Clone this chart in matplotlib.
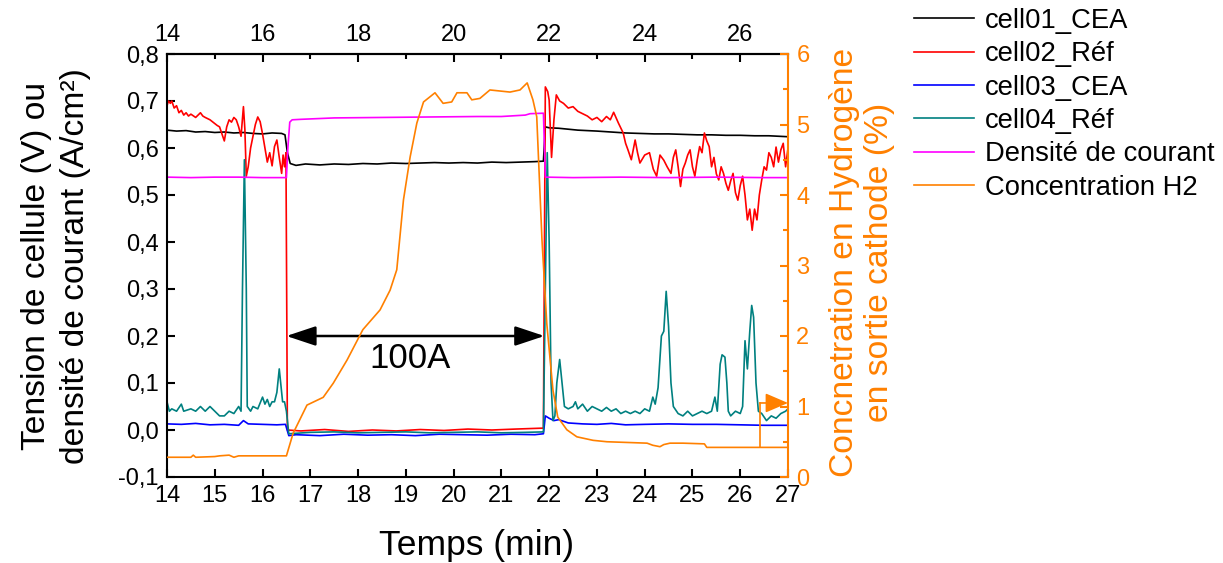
import matplotlib
matplotlib.use('Agg')
import matplotlib.pyplot as plt
from matplotlib.ticker import MultipleLocator, FuncFormatter

plt.rcParams['font.family'] = ['Liberation Sans', 'DejaVu Sans']

# ---------------- data ----------------
t_cell01 = [14.0, 14.2, 14.4, 14.6, 14.8, 15.0, 15.2, 15.4, 15.6, 15.8, 16.0, 16.2, 16.4, 16.47,
            16.52, 16.58, 16.7, 16.9, 17.2, 17.5, 17.8, 18.1, 18.4, 18.7, 19.0, 19.3, 19.6, 19.9,
            20.2, 20.5, 20.8, 21.1, 21.4, 21.7, 21.88, 21.92, 22.0, 22.2, 22.4, 22.6, 22.8, 23.0,
            23.3, 23.6, 23.9, 24.2, 24.5, 24.8, 25.1, 25.4, 25.7, 26.0, 26.3, 26.6, 27.0]
v_cell01 = [0.638, 0.636, 0.637, 0.634, 0.635, 0.633, 0.634, 0.632, 0.633, 0.631, 0.630, 0.632, 0.631, 0.628,
            0.590, 0.567, 0.563, 0.566, 0.564, 0.566, 0.565, 0.567, 0.566, 0.568, 0.567, 0.568, 0.569, 0.568,
            0.569, 0.568, 0.570, 0.569, 0.570, 0.571, 0.572, 0.645, 0.643, 0.642, 0.640, 0.638, 0.637, 0.636,
            0.634, 0.632, 0.631, 0.630, 0.630, 0.629, 0.628, 0.628, 0.627, 0.627, 0.626, 0.626, 0.624]

t_cell02 = [14.0, 14.03, 14.07, 14.1, 14.15, 14.2, 14.25, 14.3, 14.35, 14.4, 14.45, 14.5, 14.6, 14.7,
            14.75, 14.8, 14.9, 15.0, 15.05, 15.1, 15.15, 15.2, 15.25, 15.3, 15.35, 15.4, 15.45, 15.5,
            15.55, 15.6, 15.63, 15.66, 15.7, 15.75, 15.8, 15.85, 15.9, 15.95, 16.0, 16.05, 16.1, 16.15,
            16.2, 16.25, 16.3, 16.35, 16.4, 16.43, 16.46, 16.49, 16.52,
            16.8, 17.3, 17.8, 18.3, 18.8, 19.3, 19.8, 20.3, 20.8, 21.3, 21.88,
            21.92, 21.97, 22.0, 22.05, 22.1, 22.15, 22.22, 22.3, 22.4, 22.5, 22.6, 22.7, 22.8, 22.9,
            23.0, 23.1, 23.2, 23.28, 23.35, 23.45, 23.55, 23.6, 23.65, 23.72, 23.8, 23.85, 23.9, 24.0,
            24.1, 24.18, 24.25, 24.32, 24.4, 24.47, 24.55, 24.6, 24.65, 24.7, 24.75, 24.8, 24.85, 24.9,
            24.95, 25.0, 25.05, 25.1, 25.15, 25.2, 25.25, 25.3, 25.35, 25.4, 25.45, 25.5, 25.55, 25.6,
            25.65, 25.7, 25.75, 25.8, 25.85, 25.9, 25.95, 26.0, 26.05, 26.1, 26.15, 26.2, 26.25, 26.3,
            26.35, 26.4, 26.45, 26.5, 26.55, 26.6, 26.65, 26.7, 26.75, 26.8, 26.85, 26.9, 26.95, 27.0]
v_cell02 = [0.690, 0.700, 0.695, 0.700, 0.685, 0.690, 0.675, 0.680, 0.670, 0.675, 0.668, 0.672, 0.665, 0.675,
            0.668, 0.665, 0.660, 0.652, 0.648, 0.645, 0.630, 0.615, 0.645, 0.660, 0.655, 0.665, 0.660, 0.645,
            0.625, 0.688, 0.640, 0.540, 0.560, 0.600, 0.625, 0.650, 0.666, 0.656, 0.630, 0.600, 0.570, 0.590,
            0.562, 0.603, 0.617, 0.580, 0.546, 0.585, 0.560, 0.590, 0.000,
            -0.002, 0.001, -0.003, 0.000, -0.002, 0.001, -0.001, 0.002, 0.000, 0.002, 0.004,
            0.730, 0.720, 0.702, 0.580, 0.660, 0.713, 0.700, 0.695, 0.685, 0.688, 0.678, 0.673, 0.668, 0.660,
            0.665, 0.656, 0.667, 0.660, 0.676, 0.653, 0.632, 0.610, 0.596, 0.575, 0.617, 0.590, 0.568, 0.585,
            0.590, 0.555, 0.540, 0.585, 0.574, 0.560, 0.546, 0.580, 0.596, 0.560, 0.518, 0.555, 0.568, 0.585,
            0.596, 0.560, 0.540, 0.575, 0.603, 0.590, 0.632, 0.615, 0.603, 0.560, 0.580, 0.545, 0.532, 0.560,
            0.546, 0.525, 0.510, 0.530, 0.546, 0.505, 0.489, 0.520, 0.540, 0.500, 0.447, 0.470, 0.425, 0.470,
            0.447, 0.500, 0.532, 0.560, 0.553, 0.590, 0.580, 0.560, 0.602, 0.570, 0.596, 0.610, 0.560, 0.600]

t_cell03 = [14.0, 14.3, 14.6, 14.9, 15.2, 15.5, 15.6, 15.7, 16.0, 16.3, 16.48, 16.55, 16.7, 17.2, 17.7,
            18.2, 18.7, 19.2, 19.7, 20.2, 20.7, 21.2, 21.7, 21.88, 21.92, 22.0, 22.1, 22.2, 22.4, 22.7,
            23.0, 23.3, 23.6, 24.0, 24.5, 25.0, 25.5, 26.0, 26.5, 27.0]
v_cell03 = [0.013, 0.012, 0.014, 0.011, 0.012, 0.010, 0.020, 0.013, 0.012, 0.011, 0.012, -0.012, -0.010, -0.012, -0.009,
            -0.011, -0.010, -0.012, -0.009, -0.010, -0.011, -0.009, -0.010, -0.008, 0.030, 0.025, 0.020, 0.022, 0.015, 0.013,
            0.012, 0.014, 0.011, 0.012, 0.013, 0.012, 0.012, 0.011, 0.010, 0.010]

t_cell04 = [14.0, 14.05, 14.1, 14.2, 14.3, 14.35, 14.5, 14.6, 14.7, 14.8, 14.9, 15.0, 15.1, 15.2, 15.3,
            15.4, 15.5, 15.55, 15.58, 15.62, 15.66, 15.68, 15.75, 15.8, 15.9, 16.0, 16.05, 16.1, 16.15,
            16.2, 16.25, 16.3, 16.35, 16.38, 16.42, 16.46, 16.5, 16.55,
            17.0, 17.5, 18.0, 18.5, 19.0, 19.5, 20.0, 20.5, 21.0, 21.5, 21.88,
            21.92, 21.96, 22.0, 22.04, 22.08, 22.12, 22.16, 22.22, 22.27, 22.32, 22.4, 22.5, 22.55, 22.6,
            22.7, 22.8, 22.9, 23.0, 23.1, 23.2, 23.3, 23.4, 23.5, 23.6, 23.7, 23.8, 23.9, 24.0, 24.1,
            24.17, 24.22, 24.28, 24.35, 24.4, 24.45, 24.5, 24.55, 24.6, 24.7, 24.8, 24.9, 25.0, 25.1,
            25.2, 25.3, 25.4, 25.47, 25.52, 25.58, 25.62, 25.68, 25.72, 25.75, 25.8, 25.9, 26.0, 26.05,
            26.1, 26.15, 26.2, 26.24, 26.28, 26.33, 26.38, 26.45, 26.55, 26.65, 26.75, 26.85, 26.95, 27.0]
v_cell04 = [0.060, 0.040, 0.045, 0.040, 0.055, 0.040, 0.045, 0.040, 0.050, 0.040, 0.050, 0.040, 0.030, 0.030, 0.040,
            0.035, 0.050, 0.040, 0.300, 0.575, 0.300, 0.050, 0.040, 0.050, 0.045, 0.070, 0.055, 0.065, 0.050,
            0.060, 0.060, 0.080, 0.130, 0.100, 0.060, 0.060, 0.040, -0.008,
            -0.005, -0.004, -0.006, -0.005, -0.004, -0.006, -0.005, -0.004, -0.006, -0.005, -0.004,
            0.300, 0.590, 0.400, 0.100, 0.020, 0.030, 0.100, 0.150, 0.100, 0.050, 0.045, 0.050, 0.060, 0.045,
            0.055, 0.040, 0.050, 0.045, 0.040, 0.048, 0.040, 0.045, 0.035, 0.040, 0.035, 0.040, 0.035, 0.045, 0.040,
            0.070, 0.055, 0.090, 0.200, 0.210, 0.295, 0.220, 0.100, 0.050, 0.035, 0.030, 0.040, 0.030, 0.035,
            0.040, 0.035, 0.040, 0.070, 0.040, 0.140, 0.160, 0.155, 0.100, 0.040, 0.030, 0.040, 0.035, 0.050,
            0.190, 0.130, 0.210, 0.265, 0.240, 0.100, 0.040, 0.035, 0.020, 0.030, 0.025, 0.035, 0.040, 0.045]

t_density = [14.0, 14.5, 15.0, 15.5, 16.0, 16.5, 16.53, 16.57, 16.62, 16.8, 17.5, 18.5, 19.5, 20.5, 21.0,
             21.5, 21.6, 21.88, 21.92, 22.5, 23.5, 24.5, 25.5, 26.5, 27.0]
v_density = [0.538, 0.537, 0.538, 0.538, 0.537, 0.537, 0.600, 0.655, 0.660, 0.661, 0.664, 0.665, 0.666, 0.667, 0.667,
             0.670, 0.673, 0.674, 0.538, 0.537, 0.538, 0.537, 0.538, 0.537, 0.537]

t_h2 = [14.0, 14.5, 14.55, 14.6, 15.0, 15.1, 15.3, 15.4, 15.5, 16.0, 16.5, 16.64, 16.93, 17.27, 17.48,
        17.77, 18.1, 18.46, 18.67, 18.81, 18.95, 19.09, 19.23, 19.37, 19.5, 19.61, 19.78, 19.96, 20.07,
        20.28, 20.38, 20.55, 20.76, 21.18, 21.39, 21.54, 21.66, 21.74, 21.85, 21.95, 22.08, 22.18,
        22.37, 22.58, 22.92, 23.21, 24.05, 24.17, 24.32, 24.4, 24.53, 24.8, 25.25, 25.3, 27.0]
v_h2 = [0.28, 0.28, 0.31, 0.28, 0.29, 0.30, 0.31, 0.28, 0.30, 0.30, 0.30, 0.62, 1.02, 1.13, 1.33,
        1.66, 2.09, 2.37, 2.65, 2.94, 3.93, 4.54, 5.02, 5.32, 5.39, 5.45, 5.30, 5.32, 5.45,
        5.45, 5.35, 5.37, 5.49, 5.46, 5.49, 5.59, 5.35, 5.11, 3.36, 2.18, 1.23, 0.85,
        0.67, 0.57, 0.52, 0.50, 0.48, 0.45, 0.43, 0.46, 0.48, 0.48, 0.47, 0.42, 0.42]

labels = ['cell01_CEA', 'cell02_Réf', 'cell03_CEA', 'cell04_Réf',
          'Densité de courant', 'Concentration H2']
colors = ['#000000', '#FF0000', '#0000FF', '#008080', '#FF00FF', '#FF8000']

# ---------------- figure ----------------
fig = plt.figure(figsize=(12.23, 5.63), dpi=100)
ax = fig.add_axes([167/1223, 1-477/563, (788-167)/1223, (477-54)/563])
ax2 = ax.twinx()

lw = 1.2
h = []
h += ax.plot(t_cell01, v_cell01, color=colors[0], lw=lw, label=labels[0])
h += ax.plot(t_cell02, v_cell02, color=colors[1], lw=lw, label=labels[1])
h += ax.plot(t_cell03, v_cell03, color=colors[2], lw=lw, label=labels[2])
h += ax.plot(t_cell04, v_cell04, color=colors[3], lw=lw, label=labels[3])
h += ax.plot(t_density, v_density, color=colors[4], lw=lw, label=labels[4])
h += ax2.plot(t_h2, v_h2, color=colors[5], lw=lw, label=labels[5])

ax.set_xlim(14, 27)
ax.set_ylim(-0.1, 0.8)
ax2.set_ylim(0, 6)

tick_fs = 17
ax.xaxis.set_major_locator(MultipleLocator(1))
ax.yaxis.set_major_locator(MultipleLocator(0.1))
ax.yaxis.set_major_formatter(FuncFormatter(lambda v, p: f"{v:.1f}".replace('.', ',')))
ax.tick_params(axis='both', which='major', direction='in', length=6, width=1.5, labelsize=tick_fs, pad=6)
ax.tick_params(axis='y', right=False)

secx = ax.secondary_xaxis('top')
secx.xaxis.set_major_locator(MultipleLocator(2))
secx.xaxis.set_minor_locator(MultipleLocator(1))
secx.tick_params(which='major', direction='in', length=6, width=1.5, labelsize=tick_fs, pad=6)
secx.tick_params(which='minor', direction='in', length=3.5, width=1.5)
secx.spines['top'].set_linewidth(1.5)

orange = '#FF8000'
ax2.yaxis.set_major_locator(MultipleLocator(1))
ax2.yaxis.set_minor_locator(MultipleLocator(0.5))
ax2.tick_params(axis='y', which='major', direction='in', length=6, width=1.5, colors=orange,
                labelsize=tick_fs, pad=6)
ax2.tick_params(axis='y', which='minor', direction='in', length=3.5, width=1.5, colors=orange)
for s in ['left', 'top', 'bottom']:
    ax2.spines[s].set_visible(False)
ax2.spines['right'].set_color(orange)
ax2.spines['right'].set_linewidth(1.5)
for s in ['left', 'top', 'bottom']:
    ax.spines[s].set_linewidth(1.5)
ax.spines['right'].set_visible(False)

# annotations
ax.annotate('', xy=(16.5, 0.2), xytext=(21.9, 0.2),
            arrowprops=dict(arrowstyle='<|-|>,head_length=0.9,head_width=0.3', color='black',
                            lw=1.8, mutation_scale=20, shrinkA=0, shrinkB=0))
ax.text(19.09, 0.153, '100A', fontsize=25, ha='center', va='center')

ax2.plot([26.41, 26.41], [0.42, 1.05], color=orange, lw=lw)
ax2.annotate('', xy=(27.0, 1.05), xytext=(26.41, 1.05),
             arrowprops=dict(arrowstyle='-|>,head_length=0.7,head_width=0.3', color=orange,
                             lw=lw, mutation_scale=20, shrinkA=0, shrinkB=0))

# labels
fig.text(56/1223, 1-266/563, 'Tension de cellule (V) ou\ndensité de courant (A/cm²)',
         rotation=90, ha='center', va='center', fontsize=24.2, multialignment='center',
         linespacing=1.32)
fig.text(862/1223, 1-262/563, 'Concnetration en Hydrogène\nen sortie cathode (%)',
         rotation=90, ha='center', va='center', fontsize=24.2, multialignment='center',
         color=orange, linespacing=1.2)
fig.text(477/1223, 1-545/563, 'Temps (min)', ha='center', va='center', fontsize=25.5)

fig.legend(h, labels, loc='upper left', bbox_to_anchor=(911/1223, 1-5/563), frameon=False,
           fontsize=19.7, handlelength=2.2, handletextpad=0.4, labelspacing=0.27,
           borderaxespad=0, borderpad=0.1)

fig.savefig('out.png', dpi=100)
